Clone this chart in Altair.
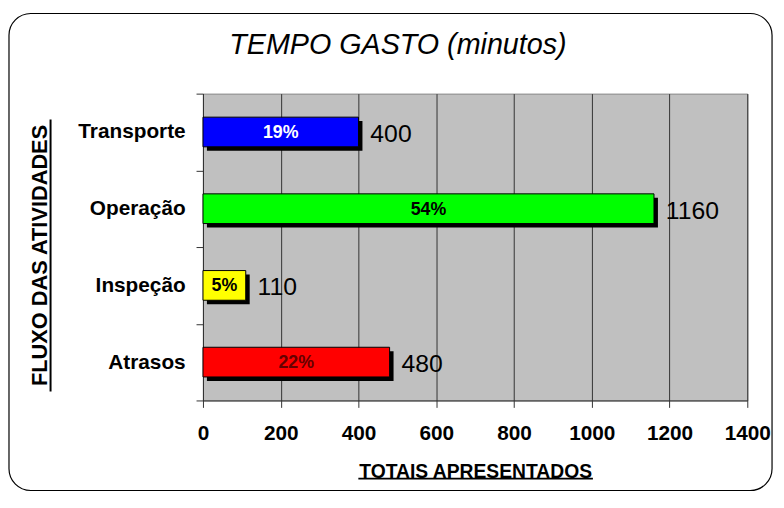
import altair as alt
import pandas as pd

# ---- data ----
categories = ["Transporte", "Operação", "Inspeção", "Atrasos"]
minutes = [400, 1160, 110, 480]
percent_labels = ["19%", "54%", "5%", "22%"]
x_ticks = [0, 200, 400, 600, 800, 1000, 1200, 1400]

# ---- styles ----
bar_colors = ["#0000FF", "#00FF00", "#FFFF00", "#FF0000"]
pct_colors = ["#FFFFFF", "#000000", "#000000", "#660000"]
FONT = "Arial, Liberation Sans, sans-serif"

df = pd.DataFrame({"cat": categories, "min": minutes, "pct": percent_labels})

W, H = 550, 310
X_TITLE = "TOTAIS APRESENTADOS"
Y_TITLE = "FLUXO DAS ATIVIDADES"

x_axis = alt.Axis(
    values=x_ticks, format="d", labelOverlap=False, labelFlush=False, grid=True,
    gridColor="#333333", gridWidth=1,
    domainColor="#333333", tickColor="#333333", tickSize=7,
    labelFont=FONT, labelFontSize=21, labelFontWeight="bold", labelColor="black",
    labelPadding=15, title=X_TITLE, titleFont=FONT, titleFontSize=19.5,
    titleFontWeight="bold", titleColor="black", titleX=W / 2, titleY=78,
    titleAlign="center", titleBaseline="alphabetic",
)
x_scale = alt.Scale(domain=[0, 1400], nice=False, zero=True)

y_enc = alt.Y(
    "cat:N", sort=categories,
    scale=alt.Scale(paddingInner=0, paddingOuter=0),
    axis=alt.Axis(
        title=Y_TITLE, tickBand="extent", tickSize=7, tickColor="#333333",
        domainColor="#333333", labelFont=FONT, labelFontSize=21,
        labelFontWeight="bold", labelColor="black", labelPadding=11,
        titleFont=FONT, titleFontSize=22, titleFontWeight="bold", titleColor="black",
        titleAngle=-90, titleX=-158, titleY=163, titleAlign="center",
        titleBaseline="alphabetic",
    ),
)

base = alt.Chart(df).encode(y=y_enc)

shadow = base.mark_bar(
    size=30, color="black", xOffset=4, x2Offset=4, yOffset=4, y2Offset=4
).encode(x=alt.X("min:Q", scale=x_scale, axis=x_axis))

bars = base.mark_bar(size=30, stroke="black", strokeWidth=1).encode(
    x=alt.X("min:Q", scale=x_scale, axis=x_axis),
    fill=alt.Fill("cat:N", scale=alt.Scale(domain=categories, range=bar_colors), legend=None),
)

pct = base.transform_calculate(mid="datum.min / 2").mark_text(
    font=FONT, fontSize=18, fontWeight="bold", align="center", baseline="middle", dy=1
).encode(
    x=alt.X("mid:Q", scale=x_scale, axis=x_axis),
    text="pct:N",
    color=alt.Color("cat:N", scale=alt.Scale(domain=categories, range=pct_colors), legend=None),
)

values = base.mark_text(
    font=FONT, fontSize=25, fontWeight="normal", align="left", baseline="middle",
    dx=12, dy=2, color="black"
).encode(
    x=alt.X("min:Q", scale=x_scale, axis=x_axis),
    text="min:Q",
)

one = alt.Data(values=[{"k": 1}])
x_underline = alt.Chart(one).mark_rule(color="black", strokeWidth=2).encode(
    x=alt.value(157), x2=alt.value(394), y=alt.value(389)
)
y_underline = alt.Chart(one).mark_rule(color="black", strokeWidth=2).encode(
    x=alt.value(-154), y=alt.value(26), y2=alt.value(301)
)
border = alt.Chart(one).mark_rect(
    fill=None, stroke="black", strokeWidth=1.2, cornerRadius=22
).encode(
    x=alt.value(-196), x2=alt.value(575), y=alt.value(-81), y2=alt.value(401)
)

chart = alt.layer(shadow, bars, pct, values, x_underline, y_underline, border).properties(
    width=W, height=H,
    title=alt.Title(
        "TEMPO GASTO (minutos)", font=FONT, fontSize=29, fontStyle="italic",
        fontWeight="normal", color="black", anchor="middle", frame="group",
        dx=-78, offset=-71, baseline="alphabetic",
    ),
    autosize=alt.AutoSizeParams(type="none"),
    padding={"left": 197, "top": 84, "right": 29, "bottom": 93},
    background="white",
).configure_view(
    fill="#C0C0C0", stroke="#808080", strokeWidth=1
)

chart.save("out.html", embed_options={"renderer": "svg", "actions": False})
